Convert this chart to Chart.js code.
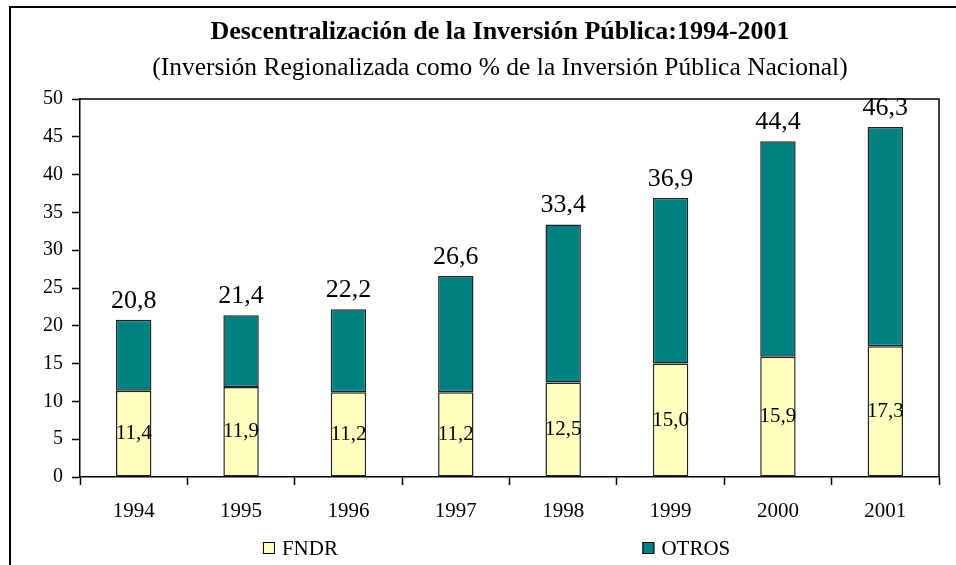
<!DOCTYPE html>
<html>
<head>
<meta charset="utf-8">
<script src="https://cdn.jsdelivr.net/npm/chart.js@4"></script>
<style>
  html, body { margin: 0; padding: 0; background: #fff; }
  #wrap { width: 956px; height: 565px; position: relative; }
</style>
</head>
<body>
<div id="wrap"><canvas id="chart"></canvas></div>
<script>
// Datos
const years = ['1994', '1995', '1996', '1997', '1998', '1999', '2000', '2001'];
const fndr = [11.4, 11.9, 11.2, 11.2, 12.5, 15.0, 15.9, 17.3];
const otros = [9.4, 9.5, 11.0, 15.4, 20.9, 21.9, 28.5, 29.0];
const totals = [20.8, 21.4, 22.2, 26.6, 33.4, 36.9, 44.4, 46.3];

const titleText = 'Descentralización de la Inversión Pública:1994-2001';
const subtitleText = '(Inversión Regionalizada como % de la Inversión Pública Nacional)';

const SERIF = "'Liberation Serif', 'Times New Roman', serif";
const fmt = (v) => v.toFixed(1).replace('.', ',');

// Marco exterior, títulos y borde del área de trazado
const framePlugin = {
  id: 'frame',
  beforeDraw(chart) {
    const ctx = chart.ctx;
    ctx.save();
    ctx.fillStyle = '#fff';
    ctx.fillRect(0, 0, chart.width, chart.height);
    ctx.strokeStyle = '#000';
    ctx.lineWidth = 2;
    ctx.beginPath();
    ctx.moveTo(10, chart.height);
    ctx.lineTo(10, 7);
    ctx.lineTo(chart.width, 7);
    ctx.stroke();

    // títulos centrados un poco a la izquierda del área de trazado
    const cx = chart.width * 0.523;
    ctx.fillStyle = '#000';
    ctx.textAlign = 'center';
    ctx.textBaseline = 'alphabetic';
    ctx.font = 'bold 26px ' + SERIF;
    ctx.fillText(titleText, cx, 39);
    ctx.font = '25.5px ' + SERIF;
    ctx.fillText(subtitleText, cx, 75);
    ctx.restore();
  },
  afterDraw(chart) {
    const { ctx, chartArea } = chart;
    ctx.save();
    ctx.strokeStyle = '#000';
    ctx.lineWidth = 1.5;
    ctx.beginPath();
    ctx.moveTo(chartArea.left, chartArea.top);
    ctx.lineTo(chartArea.right, chartArea.top);
    ctx.lineTo(chartArea.right, chartArea.bottom);
    ctx.stroke();
    ctx.restore();
  },
};

// Etiquetas: FNDR dentro de la barra, total encima
const labelsPlugin = {
  id: 'valueLabels',
  afterDatasetsDraw(chart) {
    const ctx = chart.ctx;
    const low = chart.getDatasetMeta(0).data;
    const high = chart.getDatasetMeta(1).data;
    ctx.save();
    ctx.fillStyle = '#000';
    ctx.textAlign = 'center';
    low.forEach((bar, i) => {
      ctx.font = '21px ' + SERIF;
      ctx.textBaseline = 'middle';
      ctx.fillText(fmt(fndr[i]), bar.x, (bar.y + bar.base) / 2);
      ctx.font = '26px ' + SERIF;
      ctx.textBaseline = 'alphabetic';
      ctx.fillText(fmt(totals[i]), high[i].x, high[i].y - 12);
    });
    ctx.restore();
  },
};

// Leyenda propia con los dos elementos bien separados
const legendPlugin = {
  id: 'spreadLegend',
  afterDraw(chart) {
    const ctx = chart.ctx;
    const slots = [0.275, 0.672];
    const y = chart.height - 17;
    ctx.save();
    ctx.font = '21px ' + SERIF;
    ctx.textBaseline = 'middle';
    ctx.textAlign = 'left';
    chart.data.datasets.forEach((ds, i) => {
      const x = chart.width * slots[i];
      ctx.fillStyle = ds.backgroundColor;
      ctx.fillRect(x, y - 6, 12, 12);
      ctx.strokeStyle = '#000';
      ctx.lineWidth = 1;
      ctx.strokeRect(x + 0.5, y - 5.5, 11, 11);
      ctx.fillStyle = '#000';
      ctx.fillText(ds.label, x + 19, y + 1);
    });
    ctx.restore();
  },
};

new Chart(document.getElementById('chart'), {
  type: 'bar',
  data: {
    labels: years,
    datasets: [
      {
        label: 'FNDR',
        data: fndr,
        backgroundColor: '#FFFFC0',
        borderColor: '#222',
        borderWidth: 1.5,
        borderSkipped: false,
      },
      {
        label: 'OTROS',
        data: otros,
        backgroundColor: '#008080',
        borderColor: '#222',
        borderWidth: 1.5,
        borderSkipped: false,
      },
    ],
  },
  options: {
    responsive: true,
    maintainAspectRatio: false,
    animation: false,
    devicePixelRatio: 1,
    datasets: {
      bar: { categoryPercentage: 1, barPercentage: 0.33 },
    },
    layout: {
      padding: { left: 30, right: 17, top: 99, bottom: 45 },
    },
    plugins: {
      legend: { display: false },
      tooltip: { enabled: false },
      title: { display: false },
    },
    scales: {
      x: {
        stacked: true,
        afterFit(scale) { scale.height = 43; },
        grid: {
          offset: true,
          drawOnChartArea: false,
          tickLength: 8,
          tickColor: '#000',
          tickWidth: 1.5,
        },
        border: { display: true, color: '#000', width: 1.5 },
        ticks: {
          color: '#000',
          padding: 14,
          font: { family: SERIF, size: 21 },
        },
      },
      y: {
        stacked: true,
        min: 0,
        max: 50,
        afterFit(scale) { scale.width = 50; },
        grid: {
          drawOnChartArea: false,
          tickLength: 8,
          tickColor: '#000',
          tickWidth: 1.5,
        },
        border: { display: true, color: '#000', width: 1.5 },
        ticks: {
          stepSize: 5,
          color: '#000',
          padding: 9,
          font: { family: SERIF, size: 20 },
        },
      },
    },
  },
  plugins: [framePlugin, labelsPlugin, legendPlugin],
});
</script>
</body>
</html>
